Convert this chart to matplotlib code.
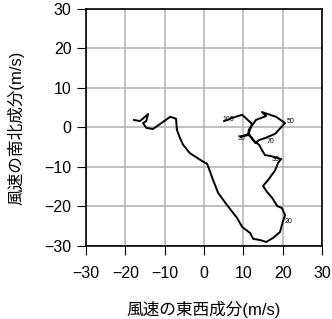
import matplotlib
matplotlib.use("Agg")
import matplotlib.pyplot as plt
import numpy as np

plt.rcParams['font.family'] = ['Liberation Sans', 'Noto Sans CJK JP', 'DejaVu Sans']
plt.rcParams['axes.unicode_minus'] = True

# hodograph: east-west (u) and north-south (v) wind components, m/s
u = [-17.8, -16.3, -15.0, -14.2, -14.7, -15.5, -14.7, -13.0, -10.4, -8.6,
     -7.1, -6.9, -6.1, -5.3, -3.6, -0.5, 0.8, 2.3, 3.6, 5.8,
     8.4, 9.7, 11.7, 12.5, 14.2, 15.8, 17.5, 19.3, 19.8, 20.6,
     19.8, 18.6, 17.3, 16.0, 15.0, 16.3, 18.1, 18.8, 19.6, 16.8,
     15.5, 14.7, 14.0, 12.7, 11.4, 9.2, 11.4, 13.0, 14.0, 15.5,
     18.1, 20.6, 18.3, 14.7, 15.8, 13.2, 11.4, 11.2, 12.2, 9.7,
     7.1, 5.1]
v = [1.9, 1.6, 2.7, 3.4, 1.6, 1.1, -0.1, -0.4, 1.4, 2.7,
     2.2, -0.6, -2.7, -4.4, -6.5, -8.5, -9.2, -13.3, -16.6, -19.6,
     -22.9, -25.2, -26.7, -28.2, -28.5, -29.0, -28.0, -26.5, -24.7, -22.2,
     -20.4, -19.9, -17.8, -16.3, -14.8, -13.3, -10.8, -9.0, -8.0, -7.2,
     -7.0, -5.7, -4.4, -3.4, -1.9, -2.4, -1.6, -3.9, -3.2, -2.7,
     -1.6, 1.1, 2.7, 3.9, 2.9, 1.9, -0.6, -1.9, 0.9, 3.2,
     2.4, 1.6]

# level labels along the curve
lab_text = ["100", "50", "70", "50", "30", "20"]
lab_u = [6.1, 22.0, 16.9, 9.5, 18.1, 21.4]
lab_v = [2.0, 1.5, -3.5, -2.9, -8.1, -23.9]

ticks = [-30, -20, -10, 0, 10, 20, 30]

fig = plt.figure(figsize=(3.32, 3.19), dpi=100)
ax = fig.add_axes([0.259, 0.229, 0.711, 0.743])

ax.plot(u, v, color='black', lw=1.4, zorder=3)
for t, x, y in zip(lab_text, lab_u, lab_v):
    ax.text(x, y, t, fontsize=5, ha='center', va='center', zorder=4)

ax.set_xlim(-30, 30)
ax.set_ylim(-30, 30)
ax.set_xticks(ticks)
ax.set_yticks(ticks)
ax.grid(True, color='#b0b0b0', lw=1.1)
ax.set_axisbelow(True)
for s in ax.spines.values():
    s.set_linewidth(1.2)
ax.tick_params(direction='out', length=6.5, width=0.8, labelsize=11.5)
ax.tick_params(axis='x', pad=8)
ax.tick_params(axis='y', pad=4)

ax.set_xlabel('風速の東西成分(m/s)', fontsize=12, labelpad=14)
ax.set_ylabel('風速の南北成分(m/s)', fontsize=12, labelpad=14)

fig.savefig('out.png', dpi=100)
